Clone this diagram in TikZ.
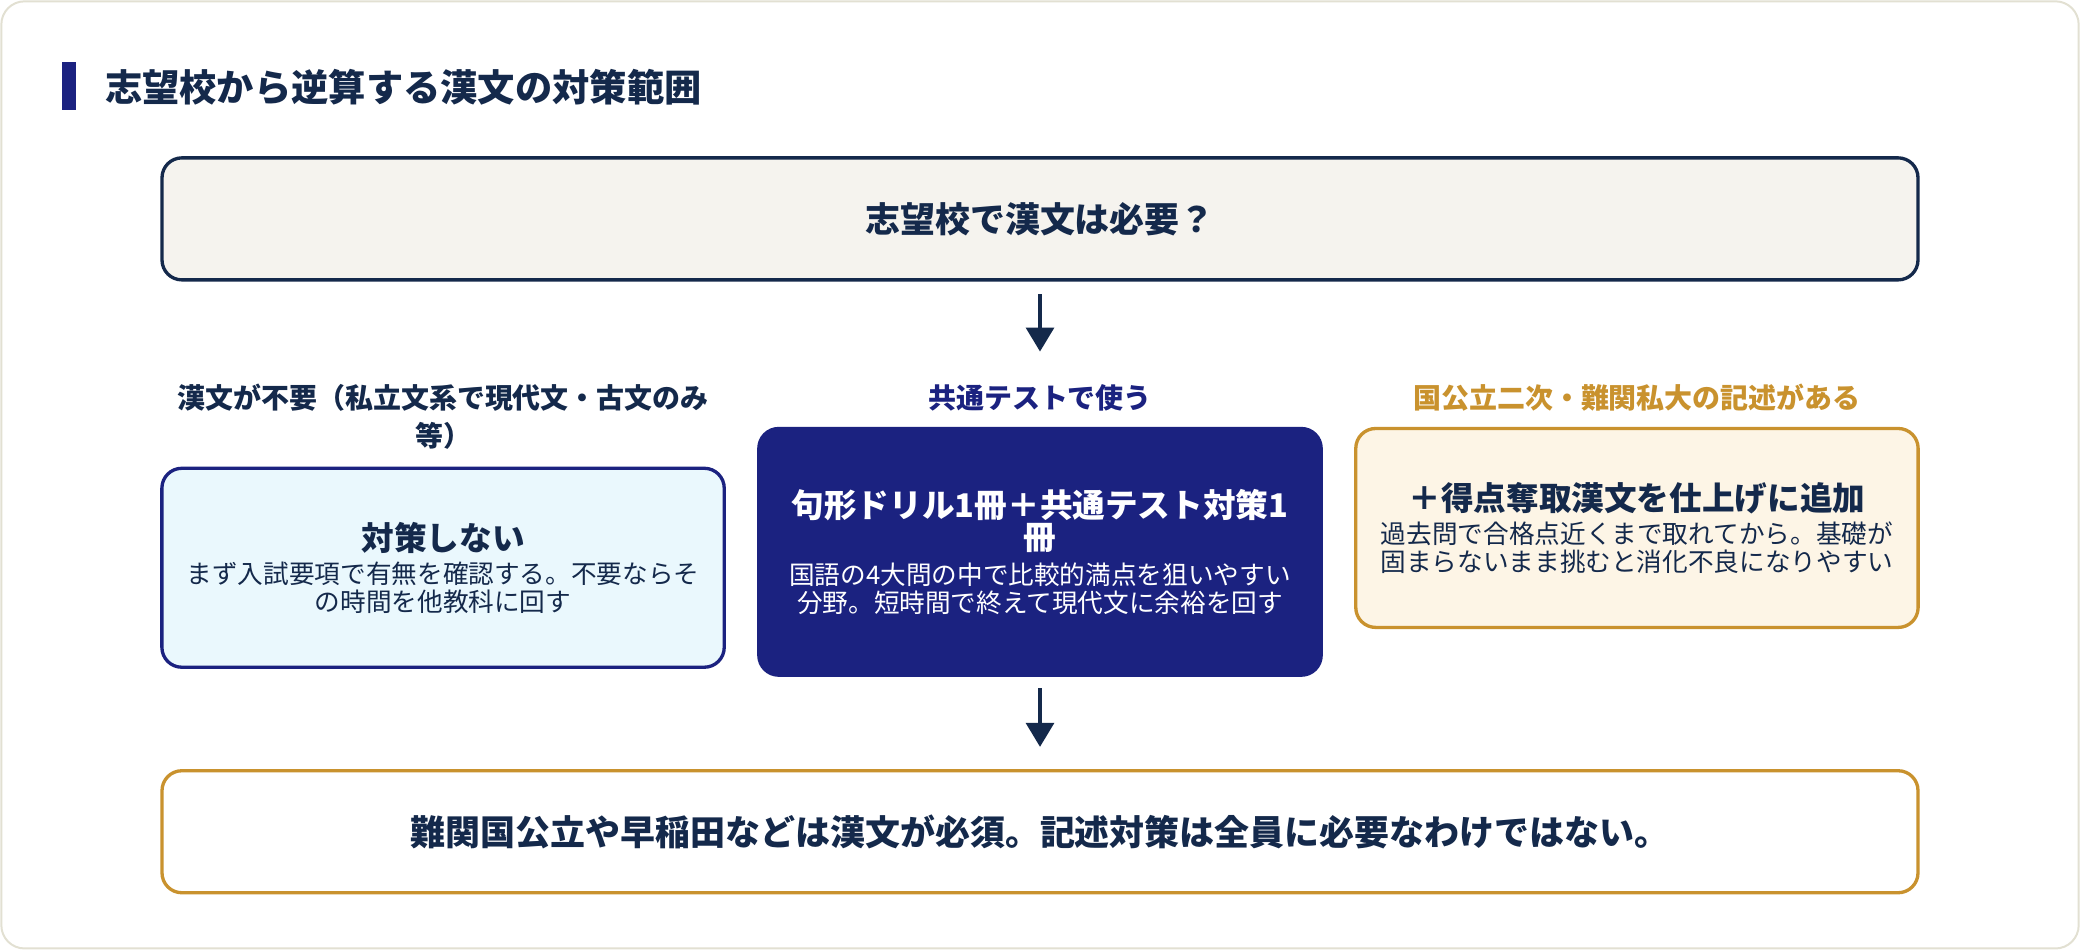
\documentclass[tikz,border=0pt]{standalone}
\usepackage{fontspec}
\setmainfont{Noto Sans CJK JP}
\usetikzlibrary{arrows.meta}
\definecolor{navy}{HTML}{14294B}
\definecolor{indigo}{HTML}{1B2280}
\definecolor{gold}{HTML}{C9922E}
\definecolor{topfill}{HTML}{F5F3EE}
\definecolor{leftfill}{HTML}{EAF8FD}
\definecolor{rightfill}{HTML}{FDF5E6}
\definecolor{frame}{HTML}{E2E0D2}
\newcommand{\mysubf}{\fontsize{14}{21}\selectfont\bfseries}
\newcommand{\mybodf}{\fontsize{11}{19.5}\selectfont\mdseries}
\begin{document}
\begin{tikzpicture}[x=0.02cm,y=-0.02cm,
  box/.style={draw,rounded corners=0.3cm,line width=0.05cm,align=center,inner sep=0pt},
  ttl/.style={font=\fontsize{15}{20}\selectfont\bfseries},
  lab/.style={font=\fontsize{12}{16.5}\selectfont\bfseries,align=center},
  arr/.style={draw=navy,line width=0.05cm,-{Triangle[width=0.42cm,length=0.36cm]}}]
\useasboundingbox (0,0) rectangle (1568,716);
\draw[frame,line width=0.03cm,rounded corners=0.35cm,fill=white] (1,1) rectangle (1567,715);
\fill[indigo] (47,47) rectangle (57,83);
\node[anchor=west,text=navy,font=\fontsize{16}{20}\selectfont\bfseries] (title) at (73,66) {志望校から逆算する漢文の対策範囲};
\node[box,draw=navy,fill=topfill,text=navy,ttl,minimum width=26.48cm,minimum height=1.84cm] (top) at (784,165) {志望校で漢文は必要？};
\node[lab,text=navy] (l1) at (334,314) {漢文が不要（私立文系で現代文・古文のみ\\等）};
\node[lab,text=indigo] (l2) at (784,300) {共通テストで使う};
\node[lab,text=gold] (l3) at (1234,300) {国公立二次・難関私大の記述がある};
\node[box,draw=indigo,fill=leftfill,text=navy,minimum width=8.48cm,minimum height=3cm] (left) at (334,428)
  {\mysubf 対策しない\\[2pt]\mybodf まず入試要項で有無を確認する。不要ならそ\\\mybodf の時間を他教科に回す};
\node[box,draw=indigo,fill=indigo,text=white,minimum width=8.48cm,minimum height=3.72cm] (mid) at (784,416)
  {\mysubf 句形ドリル1冊＋共通テスト対策1\\\mysubf 冊\\[3pt]\mybodf 国語の4大問の中で比較的満点を狙いやすい\\\mybodf 分野。短時間で終えて現代文に余裕を回す};
\node[box,draw=gold,fill=rightfill,text=navy,minimum width=8.48cm,minimum height=3cm] (right) at (1234,398)
  {\mysubf ＋得点奪取漢文を仕上げに追加\\[2pt]\mybodf 過去問で合格点近くまで取れてから。基礎が\\\mybodf 固まらないまま挑むと消化不良になりやすい};
\node[box,draw=gold,fill=white,text=navy,ttl,minimum width=26.48cm,minimum height=1.84cm] (bot) at (784,627)
  {難関国公立や早稲田などは漢文が必須。記述対策は全員に必要なわけではない。};
\coordinate (a1s) at (784,222);
\coordinate (a1e) at (784,265);
\coordinate (a2s) at (784,519);
\coordinate (a2e) at (784,563);
\draw[arr] (a1s) -- (a1e);
\draw[arr] (a2s) -- (a2e);
\end{tikzpicture}
\end{document}
